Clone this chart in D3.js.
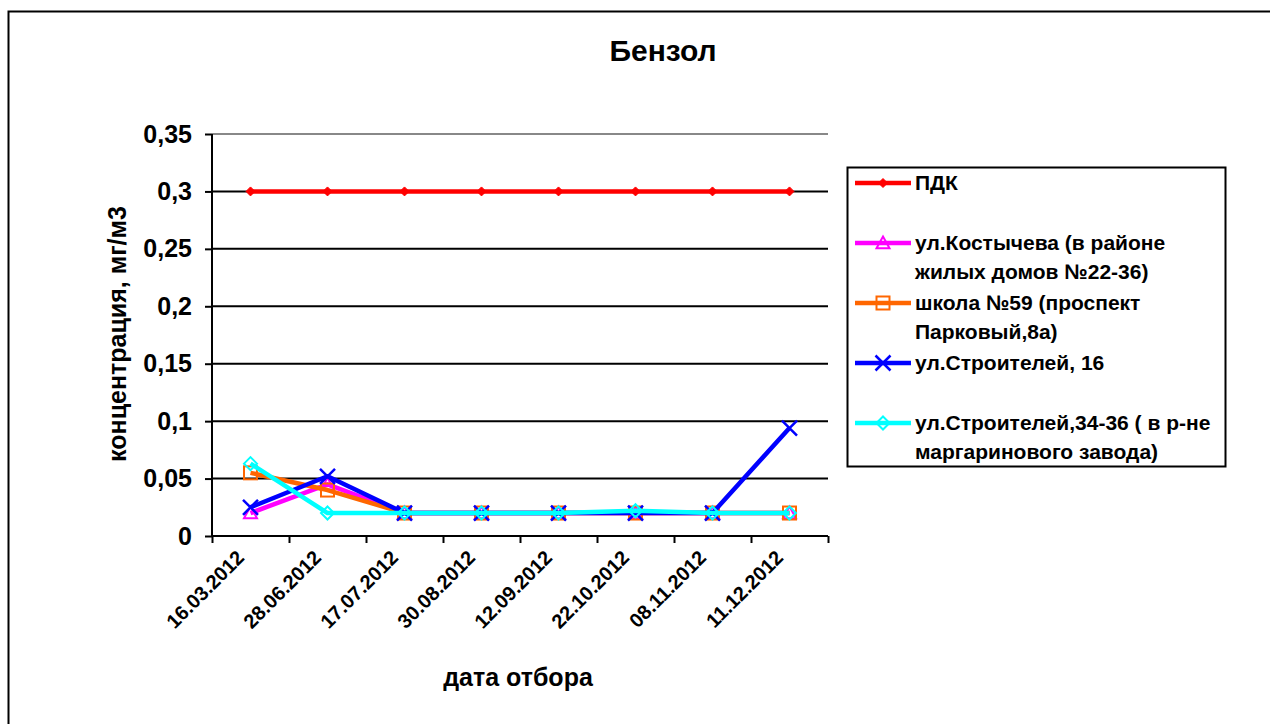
<!DOCTYPE html>
<html><head><meta charset="utf-8">
<script src="https://cdn.jsdelivr.net/npm/d3@7/dist/d3.min.js"></script>
<style>
html,body{margin:0;padding:0;background:#fff;}
text{font-family:"Liberation Sans",Arial,sans-serif;font-weight:bold;fill:#000;}
</style></head>
<body>
<svg id="chart" width="1270" height="724"></svg>
<script>
const dates = ["16.03.2012","28.06.2012","17.07.2012","30.08.2012","12.09.2012","22.10.2012","08.11.2012","11.12.2012"];
const pdk        = [0.3,0.3,0.3,0.3,0.3,0.3,0.3,0.3];
const kostycheva = [0.02,0.045,0.02,0.02,0.02,0.02,0.02,0.02];
const school59   = [0.055,0.04,0.02,0.02,0.02,0.02,0.02,0.02];
const stroit16   = [0.025,0.052,0.02,0.02,0.02,0.02,0.02,0.094];
const stroit3436 = [0.063,0.02,0.02,0.02,0.02,0.022,0.02,0.02];
const yTicks = [0,0.05,0.1,0.15,0.2,0.25,0.3,0.35];
const seriesNames = [
  ["ПДК"],
  ["ул.Костычева (в районе","жилых домов №22-36)"],
  ["школа №59 (проспект","Парковый,8а)"],
  ["ул.Строителей, 16"],
  ["ул.Строителей,34-36 ( в р-не","маргаринового завода)"]
];
const seriesValues = [pdk,kostycheva,school59,stroit16,stroit3436];
const colors = ["#ff0000","#ff00ff","#ff6600","#0000ff","#00ffff"];
const markers = ["diamondFilled","triangle","square","x","diamond"];

const svg = d3.select("#chart");
// outer frame
svg.append("path").attr("d","M8.5,730 V11.5 H1280").attr("fill","none").attr("stroke","#000").attr("stroke-width",2);

const L=212, R=828, T=134, B=536;
const x = d3.scaleBand().domain(dates).range([L,R]);
const xi = d3.scaleLinear().domain([0,dates.length]).range([L,R]);
const y = d3.scaleLinear().domain([0,0.35]).range([B,T]);

// gridlines
svg.append("g").selectAll("line").data(yTicks.filter(d=>d>0)).join("line")
  .attr("x1",L).attr("x2",R).attr("y1",d=>y(d)).attr("y2",d=>y(d))
  .attr("stroke",d=>d===0.35?"#888":"#000").attr("stroke-width",2);

// y axis
const fmt = d=>String(+d.toFixed(2)).replace(".",",");
const ya = svg.append("g").attr("transform",`translate(${L},0)`)
  .call(d3.axisLeft(y).tickValues(yTicks).tickFormat(fmt).tickSize(7).tickPadding(13));
ya.select(".domain").attr("stroke","#000").attr("stroke-width",2).attr("d",`M-0,${B}V${T}`);
ya.selectAll(".tick line").attr("stroke","#000").attr("stroke-width",2);
ya.selectAll(".tick text").style("font-size","25px").style("font-family","Liberation Sans, Arial").style("font-weight","bold").attr("fill","#000");

// x axis
const xa = svg.append("g").attr("transform",`translate(0,${B})`)
  .call(d3.axisBottom(xi).tickValues(d3.range(dates.length+1)).tickFormat("").tickSize(7));
xa.select(".domain").attr("stroke","#000").attr("stroke-width",2).attr("d",`M${L},0H${R}`);
xa.selectAll(".tick line").attr("stroke","#000").attr("stroke-width",2);

svg.append("g").selectAll("text").data(dates).join("text")
  .attr("transform",d=>`translate(${x(d)+x.bandwidth()/2-10},${B+18}) rotate(-45)`)
  .attr("text-anchor","end").attr("dy","0.35em").style("font-size","20px").text(d=>d);

// titles
svg.append("text").attr("x",663).attr("y",61).attr("text-anchor","middle").style("font-size","30px").text("Бензол");
svg.append("text").attr("x",518).attr("y",686).attr("text-anchor","middle").style("font-size","25px").text("дата отбора");
svg.append("text").attr("transform",`translate(126,334) rotate(-90)`).attr("text-anchor","middle").style("font-size","25px").text("концентрация, мг/м3");

function marker(g, type, color, size){
  const s=size/2;
  if(type==="diamondFilled"){
    g.append("path").attr("d",`M0,${-s}L${s},0L0,${s}L${-s},0Z`).attr("fill",color).attr("stroke",color).attr("stroke-width",1);
  } else if(type==="triangle"){
    g.append("path").attr("d",`M0,${-s}L${s},${s*0.8}L${-s},${s*0.8}Z`).attr("fill","none").attr("stroke",color).attr("stroke-width",2);
  } else if(type==="square"){
    g.append("rect").attr("x",-s).attr("y",-s).attr("width",size).attr("height",size).attr("fill","none").attr("stroke",color).attr("stroke-width",2);
  } else if(type==="x"){
    g.append("path").attr("d",`M${-s},${-s}L${s},${s}M${-s},${s}L${s},${-s}`).attr("stroke",color).attr("stroke-width",2.5);
  } else if(type==="diamond"){
    g.append("path").attr("d",`M0,${-s}L${s},0L0,${s}L${-s},0Z`).attr("fill","none").attr("stroke",color).attr("stroke-width",2);
  }
}
const sizes=[9,13,13,15,13];
const line = d3.line().x((d,i)=>x(dates[i])+x.bandwidth()/2).y(d=>y(d));
seriesValues.forEach((vals,si)=>{
  const g = svg.append("g");
  g.append("path").attr("d",line(vals)).attr("fill","none").attr("stroke",colors[si]).attr("stroke-width",4.5).attr("stroke-linejoin","round");
  vals.forEach((v,i)=>{
    const mg = g.append("g").attr("transform",`translate(${x(dates[i])+x.bandwidth()/2},${y(v)})`);
    marker(mg, markers[si], colors[si], sizes[si]);
  });
});

// legend
const lg = svg.append("g");
lg.append("rect").attr("x",847.5).attr("y",167.5).attr("width",378).attr("height",299).attr("fill","#fff").attr("stroke","#000").attr("stroke-width",2);
const legY = [183,243,303,363,423];
seriesNames.forEach((lines,si)=>{
  const g = lg.append("g");
  g.append("line").attr("x1",855).attr("x2",911).attr("y1",legY[si]).attr("y2",legY[si]).attr("stroke",colors[si]).attr("stroke-width",4.5);
  const mg = g.append("g").attr("transform",`translate(883,${legY[si]})`);
  marker(mg, markers[si], colors[si], sizes[si]);
  const t = g.append("text").attr("x",915).attr("y",legY[si]+7).style("font-size","21px");
  lines.forEach((ln,k)=>t.append("tspan").attr("x",915).attr("dy",k?29:0).text(ln));
});
</script>
</body></html>
